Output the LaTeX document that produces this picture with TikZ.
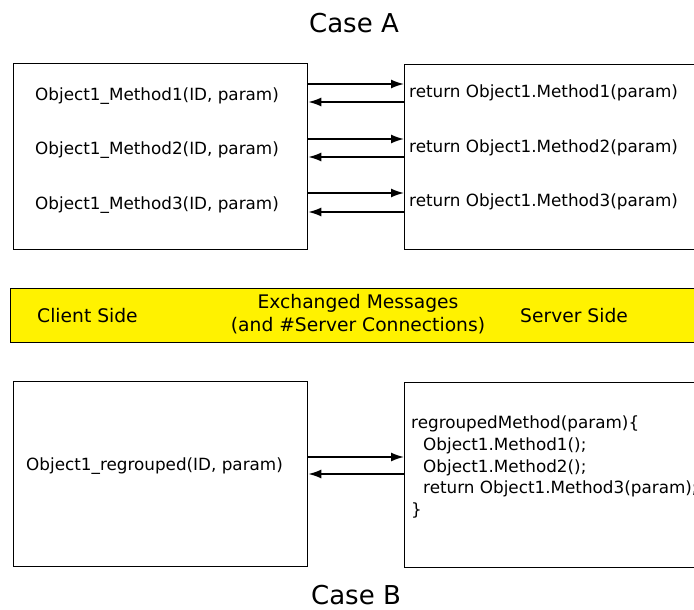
\documentclass[tikz,border=0pt]{standalone}
\usepackage{fontspec}
\setmainfont{DejaVu Sans}
\usepackage{tikz}
\usetikzlibrary{arrows.meta,positioning,calc}
\tikzset{box/.style={draw,line width=1.3pt,inner sep=0pt,anchor=north west},
  msg/.style={line width=1.6pt,-{Latex[length=13pt,width=9pt]}},
  call/.style={font=\fontsize{16.8}{20}\selectfont,anchor=base west,inner sep=0pt},
  side/.style={font=\fontsize{18.7}{22}\selectfont,inner sep=0pt},
  title/.style={font=\fontsize{26}{30}\selectfont,anchor=base,inner sep=0pt}}

\begin{document}
\begin{tikzpicture}[x=1pt,y=-1pt]
\useasboundingbox (0,0) rectangle (694,610);
\clip (0,0) rectangle (694,610);
% case A: one call per method
\node[title] (caseA) at (354,33) {Case A};
\node[box,minimum width=294pt,minimum height=186pt] (cliA) at (13,63) {};
\node[box,minimum width=320pt,minimum height=185pt] (srvA) at (404,64) {};
\node[call] (m1) at (35,100) {Object1\_Method1(ID, param)};
\node[call] (m2) at (35,154) {Object1\_Method2(ID, param)};
\node[call] (m3) at (35,209) {Object1\_Method3(ID, param)};
\node[call] (r1) at (409,97) {return Object1.Method1(param)};
\node[call] (r2) at (409,152) {return Object1.Method2(param)};
\node[call] (r3) at (409,206) {return Object1.Method3(param)};
\foreach \yo/\yb in {84/102,139/157,193/212}{
  \draw[msg] (cliA.east |- 0,\yo) -- (srvA.west |- 0,\yo);
  \draw[msg] (srvA.west |- 0,\yb) -- (cliA.east |- 0,\yb);
}
% legend band
\node[box,fill=yellow,minimum width=700pt,minimum height=54pt] (band) at (10,288) {};
\node[side,anchor=base west] (cli) at (37,322) {Client Side};
\node[side,anchor=base] (ex1) at (358,308) {Exchanged Messages};
\node[side,anchor=base] (ex2) at (358,331) {(and \#Server Connections)};
\node[side,anchor=base west] (srv) at (520,322) {Server Side};
% case B: regrouped call
\node[box,minimum width=294pt,minimum height=185pt] (cliB) at (13,381) {};
\node[box,minimum width=320pt,minimum height=185pt] (srvB) at (404,382) {};
\node[call] (g) at (26,470) {Object1\_regrouped(ID, param)};
\node[call] (c1) at (411,428) {regroupedMethod(param)\{};
\node[call] (c2) at (423,450) {Object1.Method1();};
\node[call] (c3) at (423,472) {Object1.Method2();};
\node[call] (c4) at (423,493) {return Object1.Method3(param);};
\node[call] (c5) at (411,515) {\}};
\draw[msg] (cliB.east |- 0,457) -- (srvB.west |- 0,457);
\draw[msg] (srvB.west |- 0,474) -- (cliB.east |- 0,474);
\node[title] (caseB) at (356,604) {Case B};
\end{tikzpicture}
\end{document}
